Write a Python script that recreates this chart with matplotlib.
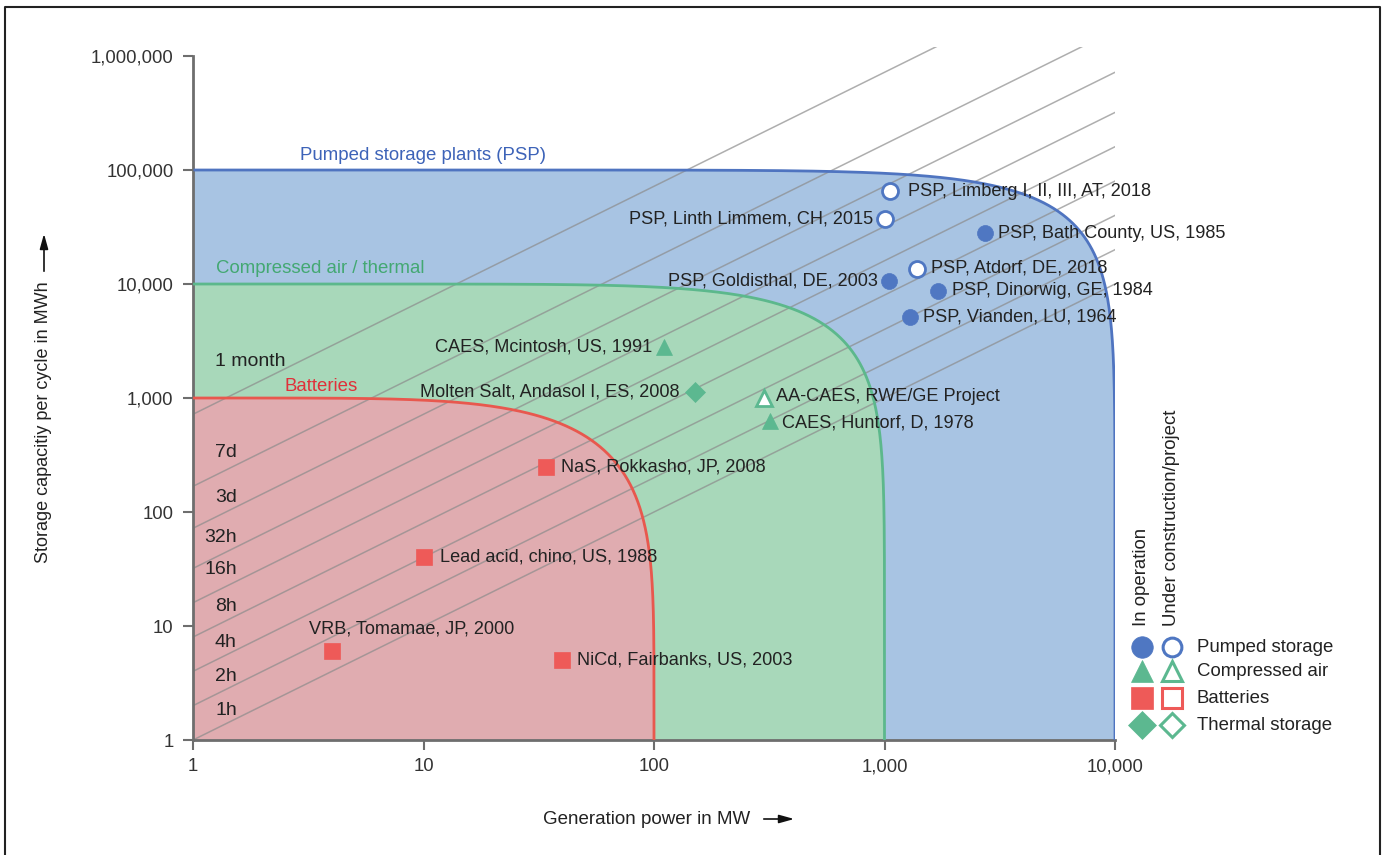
import numpy as np
import matplotlib
matplotlib.use('Agg')
import matplotlib.pyplot as plt

plt.rcParams['font.family'] = ['Liberation Sans', 'DejaVu Sans']

# storage technology envelopes: max power (MW), max energy (MWh), corner roundness
region_names = ['Pumped storage plants (PSP)', 'Compressed air / thermal', 'Batteries']
region_pmax = [10000, 1000, 100]
region_emax = [100000, 10000, 1000]
region_round = [10, 7.5, 5]
region_fill = ['#a8c4e3', '#a8d8ba', '#e0acb0']
region_edge = ['#4f74c0', '#5cb88c', '#e8584e']
region_text = ['#3d63b8', '#43a872', '#e0303a']
region_label_xy = [(2.91, 1.35e5), (1.26, 1.38e4), (2.5, 1250)]

# discharge duration lines (hours) and their labels
hours = [1, 2, 4, 8, 16, 32, 72, 168, 720]
hour_labels = ['1h', '2h', '4h', '8h', '16h', '32h', '3d', '7d', '1 month']
hour_label_y = [1.83, 3.64, 7.2, 14.7, 31, 60, 135, 330, 2070]

# plants
names = ['PSP, Limberg I, II, III, AT, 2018', 'PSP, Linth Limmem, CH, 2015',
         'PSP, Bath County, US, 1985', 'PSP, Atdorf, DE, 2018',
         'PSP, Goldisthal, DE, 2003', 'PSP, Dinorwig, GE, 1984',
         'PSP, Vianden, LU, 1964', 'CAES, Mcintosh, US, 1991',
         'Molten Salt, Andasol I, ES, 2008', 'AA-CAES, RWE/GE Project',
         'CAES, Huntorf, D, 1978', 'NaS, Rokkasho, JP, 2008',
         'Lead acid, chino, US, 1988', 'VRB, Tomamae, JP, 2000',
         'NiCd, Fairbanks, US, 2003']
power = [1060, 1000, 2730, 1384, 1050, 1710, 1290, 110, 150, 300, 320, 34, 10, 4, 40]
energy = [65000, 37000, 28000, 13500, 10600, 8700, 5100, 2800, 1130, 1000, 630, 250, 40, 6, 5]
kind = ['psp', 'psp', 'psp', 'psp', 'psp', 'psp', 'psp', 'caes', 'thermal',
        'caes', 'caes', 'bat', 'bat', 'bat', 'bat']
operating = [False, False, True, False, True, True, True, True, True,
             False, True, True, True, True, True]

# label placement (pixels from marker, alignment)
label_off = [(18, 0, 'left'), (-11, 0, 'right'), (13, 0, 'left'), (14, 1, 'left'),
             (-12, 0, 'right'), (14, 0, 'left'), (13, 0, 'left'), (-11, 0, 'right'),
             (-15, 0, 'right'), (12, 2, 'left'), (12, -2, 'left'), (15, 0, 'left'),
             (16, 0, 'left'), (-23, 22, 'left'), (15, 0, 'left')]

kind_style = {
    'psp': dict(marker='o', color='#4f77c2', ms=11.5),
    'caes': dict(marker='^', color='#5cb890', ms=12),
    'bat': dict(marker='s', color='#ee5a58', ms=11.5),
    'thermal': dict(marker='D', color='#5cb890', ms=10),
}

W, H = 1384, 855
fig = plt.figure(figsize=(W / 100, H / 100), dpi=100)
ax = fig.add_axes([193 / W, (H - 740) / H, 922 / W, 693 / H])
ax.set_xscale('log')
ax.set_yscale('log')
ax.set_xlim(1, 1e4)
ax.set_ylim(1, 1.2e6)

# envelopes as superellipses in log-log space
t = np.linspace(0, np.pi / 2, 400)
for name, pm, em, nr, fc, ec in zip(region_names, region_pmax, region_emax,
                                    region_round, region_fill, region_edge):
    a, b = np.log10(pm), np.log10(em)
    lx = a * np.cos(t) ** (2 / nr)
    ly = b * np.sin(t) ** (2 / nr)
    px = np.concatenate([[0], lx, [0]])
    py = np.concatenate([[0], ly, [0]])
    ax.fill(10 ** px, 10 ** py, color=fc, lw=0, zorder=1)
    ax.plot(10 ** lx, 10 ** ly, color=ec, lw=2, zorder=3, solid_capstyle='butt')

for (lx, ly), name, c in zip(region_label_xy, region_names, region_text):
    ax.text(lx, ly, name, color=c, fontsize=13.4, ha='left', va='center', zorder=5)

# duration lines
xs = np.array([1, 1e4])
for h in hours:
    ax.plot(xs, h * xs, color='#8c8c8c', lw=1.1, alpha=0.7, zorder=2)
for lab, ly in zip(hour_labels, hour_label_y):
    if lab == '1 month':
        ax.text(1.25, ly, lab, fontsize=14, color='#222222', ha='left', va='center', zorder=5)
    else:
        ax.text(1.55, ly, lab, fontsize=14, color='#222222', ha='right', va='center', zorder=5)

# plants
for nm, p, e, k, op, (dx, dy, ha) in zip(names, power, energy, kind, operating, label_off):
    st = kind_style[k]
    face = st['color'] if op else 'white'
    ax.plot(p, e, linestyle='none', marker=st['marker'], ms=st['ms'],
            mfc=face, mec=st['color'], mew=2 if not op else 0.5, zorder=6)
    ax.annotate(nm, (p, e), xytext=(dx, dy), textcoords='offset pixels',
                ha=ha, va='center', fontsize=13.1, color='#222222', zorder=7)

# axes styling
for s in ['top', 'right']:
    ax.spines[s].set_visible(False)
for s in ['left', 'bottom']:
    ax.spines[s].set_color('#6e6e6e')
    ax.spines[s].set_linewidth(2)
ax.spines['left'].set_bounds(1, 1e6)
ax.spines['bottom'].set_bounds(1, 1e4)
ax.set_xticks([1, 10, 100, 1000, 10000])
ax.set_xticklabels(['1', '10', '100', '1,000', '10,000'])
ax.set_yticks([1, 10, 100, 1000, 1e4, 1e5, 1e6])
ax.set_yticklabels(['1', '10', '100', '1,000', '10,000', '100,000', '1,000,000'])
ax.minorticks_off()
ax.tick_params(axis='both', length=7, width=1.5, color='#6e6e6e', labelsize=13.3,
               labelcolor='#333333')
ax.tick_params(axis='y', pad=7)
ax.tick_params(axis='x', pad=6)

# overlay in pixel space for axis titles, legend and frame
ov = fig.add_axes([0, 0, 1, 1])
ov.set_xlim(0, W)
ov.set_ylim(H, 0)
ov.axis('off')
ov.patch.set_alpha(0)

ov.text(647, 819, 'Generation power in MW', fontsize=13.5, color='#222222',
        ha='center', va='center')
ov.annotate('', xy=(797, 819), xytext=(761, 819),
            arrowprops=dict(arrowstyle='-|>,head_length=0.9,head_width=0.25',
                            color='#111111', lw=1.2))
ov.text(44, 422, 'Storage capacitiy per cycle in MWh', fontsize=13, color='#222222',
        rotation=90, ha='center', va='center')
ov.annotate('', xy=(44, 231), xytext=(44, 274),
            arrowprops=dict(arrowstyle='-|>,head_length=0.9,head_width=0.25',
                            color='#111111', lw=1.2))

# legend
ov.text(1142, 626, 'In operation', rotation=90, fontsize=13.4, color='#222222',
        ha='center', va='bottom')
ov.text(1172, 626, 'Under construction/project', rotation=90, fontsize=13.4,
        color='#222222', ha='center', va='bottom')
leg_kinds = ['psp', 'caes', 'bat', 'thermal']
leg_labels = ['Pumped storage', 'Compressed air', 'Batteries', 'Thermal storage']
leg_rows = [647, 671, 698, 725]
leg_ms = [15.5, 16, 16, 14.5]
for k, lab, yy, ms in zip(leg_kinds, leg_labels, leg_rows, leg_ms):
    st = kind_style[k]
    ov.plot(1142, yy, marker=st['marker'], ms=ms, mfc=st['color'], mec=st['color'], mew=0.5)
    ov.plot(1172, yy, marker=st['marker'], ms=ms - 2, mfc='white', mec=st['color'], mew=2.2)
    ov.text(1197, yy, lab, fontsize=13.4, color='#222222', ha='left', va='center')

# frame around the figure
ov.plot([5, 5, 1380, 1380], [H + 5, 7, 7, H + 5], color='#222222', lw=1.5,
        clip_on=False)

fig.savefig('out.png', dpi=100)
